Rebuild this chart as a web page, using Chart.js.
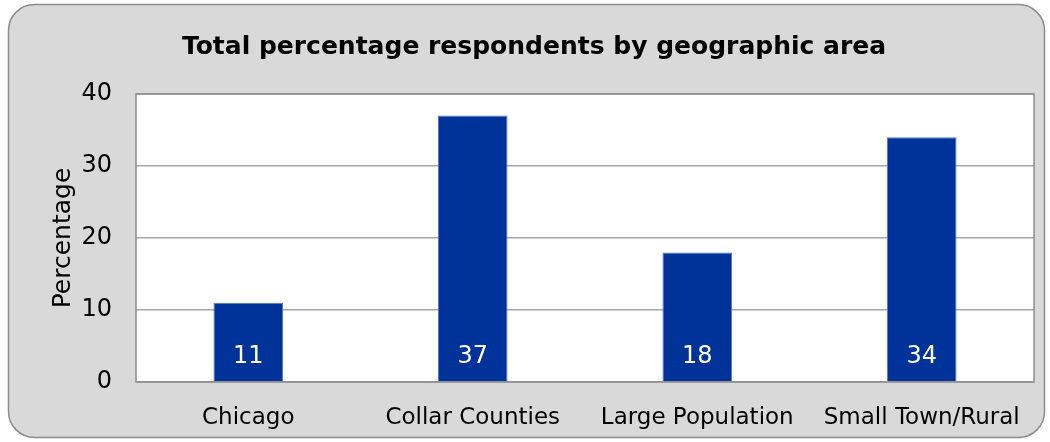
<!DOCTYPE html>
<html>
<head>
<meta charset="utf-8">
<script src="https://cdn.jsdelivr.net/npm/chart.js@4/dist/chart.umd.min.js"></script>
<style>
  html, body { margin: 0; padding: 0; background: #fff; }
  #wrap { width: 1050px; height: 442px; }
</style>
</head>
<body>
<div id="wrap"><canvas id="geoChart" width="1050" height="442"></canvas></div>
<script>
const areas = ["Chicago", "Collar Counties", "Large Population", "Small Town/Rural"];
const percentages = [11, 37, 18, 34];
const yTicks = [0, 10, 20, 30, 40];

const FONT = "'DejaVu Sans', sans-serif";

// gray rounded panel behind the chart + plot border + title
const panelPlugin = {
  id: "panel",
  beforeDraw(chart) {
    const c = chart.ctx;
    c.save();
    c.fillStyle = "#d9d9d9";
    c.strokeStyle = "#8c8c8c";
    c.lineWidth = 1.5;
    c.beginPath();
    c.roundRect(8.5, 4.5, 1036, 433, 26);
    c.fill();
    c.stroke();
    const a = chart.chartArea;
    c.fillStyle = "#ffffff";
    c.fillRect(a.left, a.top, a.right - a.left, a.bottom - a.top);
    c.fillStyle = "#000";
    c.font = "bold 25px " + FONT;
    c.textAlign = "center";
    c.textBaseline = "middle";
    c.fillText("Total percentage respondents by geographic area", 534, 47);
    c.restore();
  },
  afterDatasetsDraw(chart) {
    const c = chart.ctx;
    const a = chart.chartArea;
    c.save();
    c.strokeStyle = "#8c8c8c";
    c.lineWidth = 1.5;
    c.strokeRect(a.left, a.top, a.right - a.left, a.bottom - a.top);
    // value labels inside bars
    const meta = chart.getDatasetMeta(0);
    c.fillStyle = "#fff";
    c.font = "24px " + FONT;
    c.textAlign = "center";
    c.textBaseline = "middle";
    meta.data.forEach((bar, i) => {
      c.fillText(String(percentages[i]), bar.x, a.bottom - 25);
    });
    c.restore();
  },
};

new Chart(document.getElementById("geoChart"), {
  type: "bar",
  data: {
    labels: areas,
    datasets: [
      {
        data: percentages,
        backgroundColor: "#003399",
        borderColor: "#5a78c8",
        borderWidth: 1,
        categoryPercentage: 1,
        barPercentage: 0.31,
      },
    ],
  },
  options: {
    responsive: false,
    animation: false,
    layout: { padding: { left: 48, right: 16, top: 94, bottom: 0 } },
    plugins: {
      legend: { display: false },
      tooltip: { enabled: false },
    },
    scales: {
      x: {
        grid: { display: false },
        border: { display: false },
        ticks: { color: "#000", font: { family: FONT, size: 23 }, padding: 14 },
        afterFit: (s) => { s.height = 60; },
      },
      y: {
        min: 0,
        max: 40,
        afterBuildTicks: (s) => { s.ticks = yTicks.map((v) => ({ value: v })); },
        grid: { color: "#a6a6a6", lineWidth: 1.5, drawTicks: false },
        border: { display: false },
        ticks: { color: "#000", font: { family: FONT, size: 24 }, padding: 24 },
        title: {
          display: true,
          text: "Percentage",
          color: "#000",
          font: { family: FONT, size: 25 },
          padding: 0,
        },
        afterFit: (s) => { s.width = 88; },
      },
    },
  },
  plugins: [panelPlugin],
});
</script>
</body>
</html>
